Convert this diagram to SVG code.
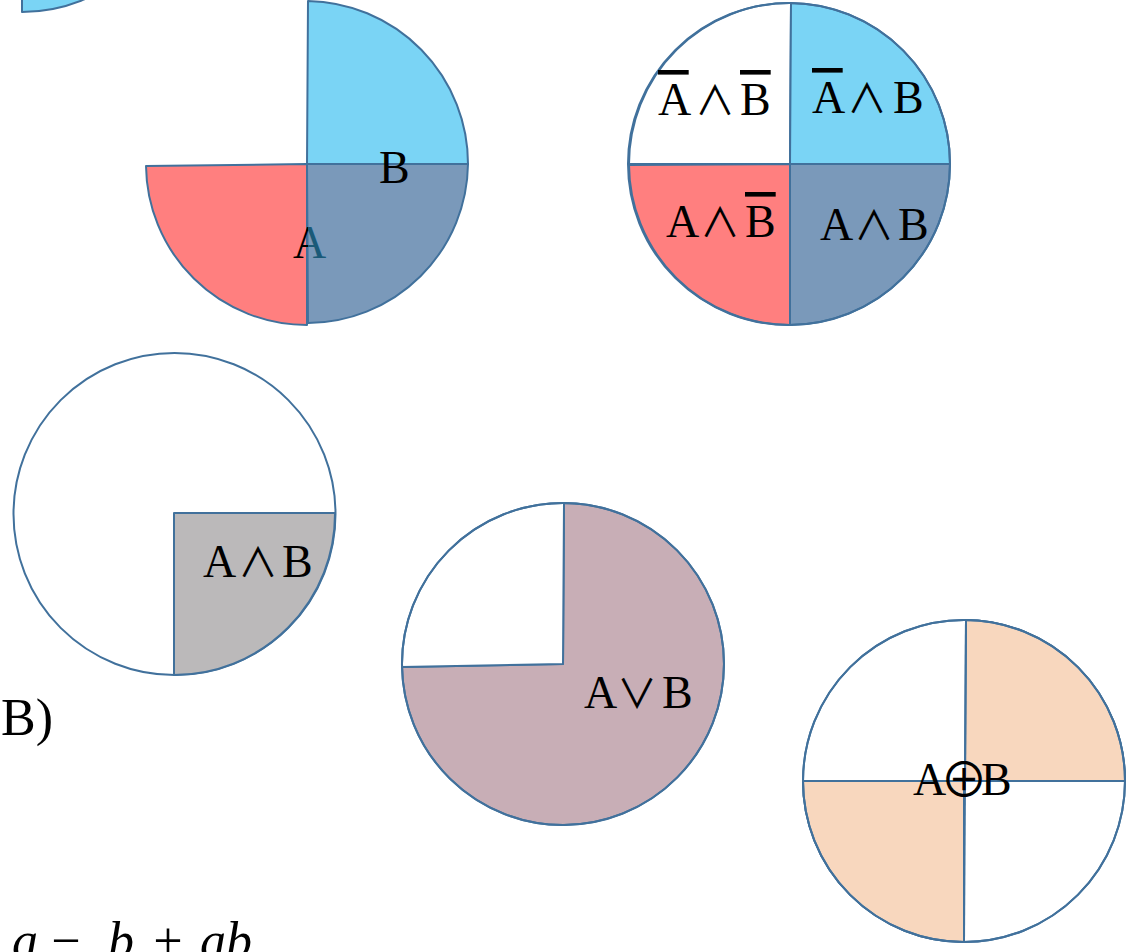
<svg xmlns="http://www.w3.org/2000/svg" width="1129" height="952" viewBox="0 0 1129 952">
<defs>
<style>
.s{stroke:#41719C;stroke-width:2;stroke-linejoin:round}
.blue{fill:#7AD4F5}
.red{fill:#FF7F7F}
.slate{fill:#7A99BA}
.gray{fill:#BBB9BA}
.mauve{fill:#C8AEB6}
.peach{fill:#F8D7BE}
.w{fill:#FFFFFF}
.n{fill:none}
.t{font-family:"Liberation Serif","DejaVu Serif",serif;font-size:46px;fill:#000}
.op{font-family:"Noto Sans CJK JP","DejaVu Sans",sans-serif;font-weight:400;font-size:40px}
.xo{font-family:"Noto Sans CJK JP","DejaVu Sans",sans-serif;font-weight:400;font-size:48px}
.ol{text-decoration:overline}
</style>
<linearGradient id="aGrad" x1="0" y1="0" x2="1" y2="0">
<stop offset="0.45" stop-color="#000"/>
<stop offset="0.45" stop-color="#1B5A78"/>
</linearGradient>
</defs>
<rect width="1129" height="952" fill="#FFFFFF"/>

<g id="partial-top-left">
<path class="s blue" d="M22,-148 L182,-148 A160,160 0 0 1 22,12 Z"/>
</g>

<g id="fig1">
<path class="s blue" d="M307,164 L308,1 A163,163 0 0 1 468,164 Z"/>
<path class="s red" d="M307,164 L146,166 A161,161 0 0 0 307,325 Z"/>
<path class="s slate" d="M307,164 L468,164 A161,161 0 0 1 308,323 Z"/>
<text class="t" x="379" y="183">B</text>
<text class="t" x="293" y="258" style="fill:url(#aGrad)">A</text>
</g>

<g id="fig2">
<path class="s w" d="M790,164 L629,164 A161,161 0 0 1 791,3 Z"/>
<path class="s blue" d="M790,164 L791,3 A161,161 0 0 1 950,164 Z"/>
<path class="s red" d="M790,164 L629,165 A161,161 0 0 0 790,325 Z"/>
<path class="s slate" d="M790,164 L950,164 A161,161 0 0 1 790,325 Z"/>
<circle class="s n" cx="789" cy="164" r="161"/>
<text class="t" y="115"><tspan x="658" class="ol">A</tspan> <tspan x="695" class="op">∧</tspan> <tspan x="740" class="ol">B</tspan></text>
<text class="t" y="113"><tspan x="812" class="ol">A</tspan> <tspan x="847" class="op">∧</tspan> <tspan x="893">B</tspan></text>
<text class="t" y="237"><tspan x="666">A</tspan> <tspan x="700" class="op">∧</tspan> <tspan x="745" class="ol">B</tspan></text>
<text class="t" y="240"><tspan x="820">A</tspan> <tspan x="854" class="op">∧</tspan> <tspan x="898">B</tspan></text>
</g>

<g id="fig3">
<circle class="s w" cx="174.5" cy="514" r="161"/>
<path class="s gray" d="M174,513 L335,513 A161,161 0 0 1 174,675 Z"/>
<text class="t" y="577"><tspan x="203">A</tspan> <tspan x="238" class="op">∧</tspan> <tspan x="282">B</tspan></text>
</g>

<g id="fig4">
<path class="s mauve" d="M563,664 L564,503 A161,161 0 1 1 402,667 Z"/>
<path class="s w" d="M563,664 L402,667 A161,161 0 0 1 564,503 Z"/>
<circle class="s n" cx="563" cy="664" r="161"/>
<text class="t" y="708"><tspan x="584">A</tspan> <tspan x="617" class="op">∨</tspan> <tspan x="662">B</tspan></text>
</g>

<g id="fig5">
<circle class="s w" cx="964" cy="781" r="161"/>
<path class="s peach" d="M965,781 L966,620 A161,161 0 0 1 1125,781 Z"/>
<path class="s peach" d="M964,781 L803,781 A161,161 0 0 0 964,942 Z"/>
<line class="s" x1="966" y1="620" x2="964" y2="942"/>
<line class="s" x1="803" y1="781" x2="1125" y2="781"/>
<circle class="s n" cx="964" cy="781" r="161"/>
<text class="t" y="795"><tspan x="913">A</tspan><tspan x="940" y="797" class="xo">⊕</tspan><tspan x="981" y="795">B</tspan></text>
</g>

<g id="labels">
<text class="t" x="1" y="735" style="font-size:52px">B)</text>
<text class="t" y="958" style="font-size:52px;font-style:italic"><tspan x="12">a</tspan><tspan x="48">−</tspan><tspan x="108">b</tspan><tspan x="150">+</tspan><tspan x="200">ab</tspan></text>
</g>
</svg>
